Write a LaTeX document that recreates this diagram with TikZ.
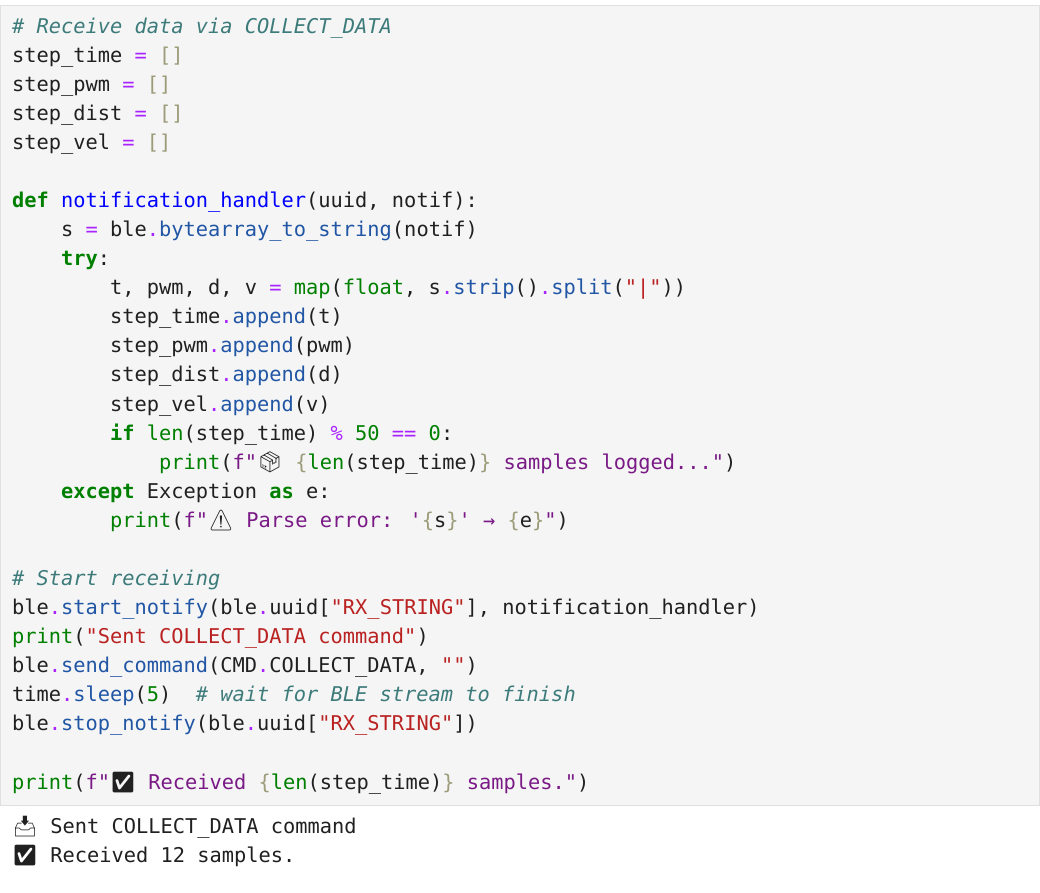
\documentclass[tikz,border=0pt]{standalone}
\usepackage{fontspec}
\newfontfamily\code{DejaVu Sans Mono}
\newfontfamily\emo{Noto Emoji}
\definecolor{bgc}{HTML}{F5F5F5}
\definecolor{bdc}{HTML}{E0E0E0}
\definecolor{cmc}{HTML}{3D7B7B}
\definecolor{kwc}{HTML}{008000}
\definecolor{opc}{HTML}{AA22FF}
\definecolor{brc}{HTML}{9C9C7A}
\definecolor{fnc}{HTML}{0000FF}
\definecolor{mtc}{HTML}{2156A5}
\definecolor{stc}{HTML}{BA2121}
\definecolor{fsc}{HTML}{7A1A86}
\definecolor{txc}{HTML}{202020}
\newcommand\Cm[1]{{\color{cmc}\itshape #1}}
\newcommand\Kw[1]{{\color{kwc}\bfseries #1}}
\newcommand\Bi[1]{{\color{kwc}#1}}
\newcommand\Op[1]{{\color{opc}#1}}
\newcommand\Br[1]{{\color{brc}#1}}
\newcommand\Fn[1]{{\color{fnc}#1}}
\newcommand\Mt[1]{{\color{mtc}#1}}
\newcommand\St[1]{{\color{stc}#1}}
\newcommand\Fs[1]{{\color{fsc}#1}}
\tikzset{codeln/.style={anchor=base west,inner sep=0pt,font=\code\fontsize{20.35}{24}\selectfont,text=txc}}
\newcommand\CL[3]{\node[codeln] (l#1) at (12+#2*49,{26+7+(#1-1)*29.08}) {#3};}
\begin{document}
\begin{tikzpicture}[x=1pt,y=-1pt]
\useasboundingbox (0,0) rectangle (1040,892);
\fill[white] (0,0) rectangle (1040,892);
\draw[bdc,fill=bgc] (0.5,5.5) rectangle (1039.5,805.5);
\CL{1}{0}{\Cm{\# Receive data via COLLECT\_DATA}}
\CL{2}{0}{step\_time \Op{=} \Br{[]}}
\CL{3}{0}{step\_pwm \Op{=} \Br{[]}}
\CL{4}{0}{step\_dist \Op{=} \Br{[]}}
\CL{5}{0}{step\_vel \Op{=} \Br{[]}}
\CL{7}{0}{\Kw{def} \Fn{notification\_handler}(uuid, notif):}
\CL{8}{1}{s \Op{=} ble\Op{.}\Mt{bytearray\_to\_string}(notif)}
\CL{9}{1}{\Kw{try}:}
\CL{10}{2}{t, pwm, d, v \Op{=} \Bi{map}(\Bi{float}, s\Op{.}\Mt{strip}()\Op{.}\Mt{split}(\St{"|"}))}
\CL{11}{2}{step\_time\Op{.}\Mt{append}(t)}
\CL{12}{2}{step\_pwm\Op{.}\Mt{append}(pwm)}
\CL{13}{2}{step\_dist\Op{.}\Mt{append}(d)}
\CL{14}{2}{step\_vel\Op{.}\Mt{append}(v)}
\CL{15}{2}{\Kw{if} \Bi{len}(step\_time) \Op{\%} \Bi{50} \Op{==} \Bi{0}:}
\CL{16}{3}{\Bi{print}(\Fs{f"}{\emo 📦}\ \Br{\{}\Bi{len}(step\_time)\Br{\}}\ \Fs{samples logged..."})}
\CL{17}{1}{\Kw{except} Exception \Kw{as} e:}
\CL{18}{2}{\Bi{print}(\Fs{f"}{\emo ⚠}\ \Fs{Parse error: '}\Br{\{}s\Br{\}}\Fs{'\ →\ }\Br{\{}e\Br{\}}\Fs{"})}
\CL{20}{0}{\Cm{\# Start receiving}}
\CL{21}{0}{ble\Op{.}\Mt{start\_notify}(ble\Op{.}uuid[\St{"RX\_STRING"}], notification\_handler)}
\CL{22}{0}{\Bi{print}(\St{"Sent COLLECT\_DATA command"})}
\CL{23}{0}{ble\Op{.}\Mt{send\_command}(CMD\Op{.}COLLECT\_DATA, \St{""})}
\CL{24}{0}{time\Op{.}\Mt{sleep}(\Bi{5})\ \ \Cm{\# wait for BLE stream to finish}}
\CL{25}{0}{ble\Op{.}\Mt{stop\_notify}(ble\Op{.}uuid[\St{"RX\_STRING"}])}
\CL{27}{0}{\Bi{print}(\Fs{f"}{\emo ✅}\ \Fs{Received}\ \Br{\{}\Bi{len}(step\_time)\Br{\}}\ \Fs{samples."})}
\node[codeln] (o1) at (12,833) {{\emo 📥}\ Sent COLLECT\_DATA command};
\node[codeln] (o2) at (12,862) {{\emo ✅}\ Received 12 samples.};
\end{tikzpicture}
\end{document}
